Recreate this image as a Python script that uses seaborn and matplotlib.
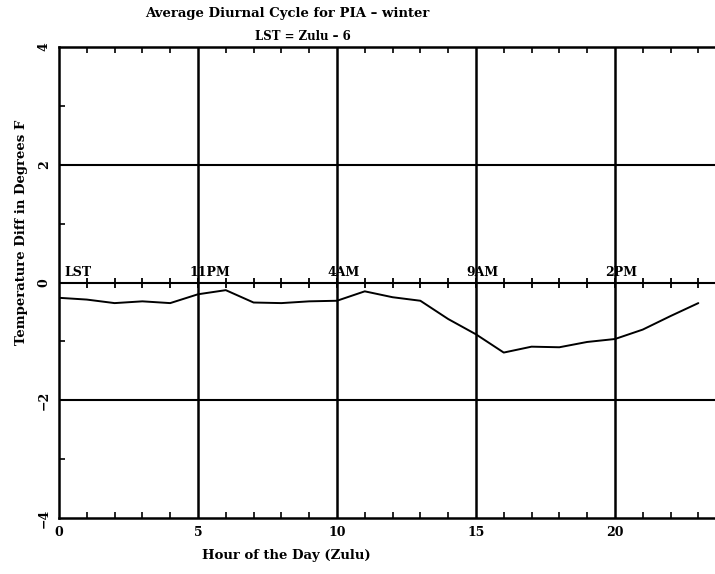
import numpy as np
import pandas as pd
import seaborn as sns
import matplotlib.pyplot as plt

# Hourly averages (Zulu hour -> temp diff, deg F)
hours = list(range(24))
temp_diff = [-0.26, -0.29, -0.35, -0.32, -0.35, -0.20, -0.13, -0.34,
             -0.35, -0.32, -0.31, -0.15, -0.25, -0.31, -0.62, -0.88,
             -1.19, -1.09, -1.10, -1.01, -0.96, -0.80, -0.57, -0.35]
lst_pos = [0.2, 4.7, 9.65, 14.65, 19.65]
lst_labels = ['LST', '11PM', '4AM', '9AM', '2PM']
major_x = [0, 5, 10, 15, 20]
major_y = [-4, -2, 0, 2, 4]

df = pd.DataFrame({'hour': hours, 'diff': temp_diff})

sns.set_style('ticks')
plt.rcParams['font.family'] = ['DejaVu Serif']
plt.rcParams['font.weight'] = 'bold'
plt.rcParams['text.color'] = 'black'
plt.rcParams['xtick.color'] = 'black'
plt.rcParams['ytick.color'] = 'black'
plt.rcParams['axes.edgecolor'] = 'black'

fig = plt.figure(figsize=(7.15, 5.74), dpi=100)
ax = fig.add_axes([59 / 715, 1 - 518 / 574, 1 - 59 / 715, (518 - 47) / 574])

sns.lineplot(data=df, x='hour', y='diff', color='black', linewidth=1.4, ax=ax)

# grid lines
for x in major_x[1:]:
    ax.axvline(x, color='black', linewidth=1.8)
for y in major_y[1:-1]:
    ax.axhline(y, color='black', linewidth=1.5)

# hour ticks across the zero line
ax.plot(hours, [0] * len(hours), linestyle='none', marker='|',
        markersize=7, markeredgewidth=1.3, color='black')

for p, lab in zip(lst_pos, lst_labels):
    ax.text(p, 0.06, lab, fontsize=9, fontweight='bold', ha='left', va='bottom')

ax.set_xlim(0, 23.6)
ax.set_ylim(-4, 4)
ax.set_xticks(major_x)
ax.set_yticks(major_y)
ax.set_xticks(hours, minor=True)
ax.set_yticks([-3, -1, 1, 3], minor=True)
ax.tick_params(axis='both', which='major', direction='in', length=0,
               labelsize=9, width=1.5, labelcolor='black')
ax.tick_params(axis='x', which='minor', direction='in', length=4, width=1.2,
               top=True, bottom=True)
ax.tick_params(axis='y', which='minor', direction='in', length=4, width=1.2)
ax.tick_params(axis='x', pad=6)
ax.tick_params(axis='y', pad=6)
for lbl in ax.get_yticklabels():
    lbl.set_rotation(90)
    lbl.set_va('center')
for lbl in ax.get_xticklabels() + ax.get_yticklabels():
    lbl.set_fontweight('bold')
ax.set_xlabel('')
ax.set_ylabel('')

for s in ['left', 'bottom', 'top']:
    ax.spines[s].set_linewidth(1.8)
    ax.spines[s].set_color('black')
ax.spines['right'].set_visible(False)

fig.text(287 / 715, 1 - 13 / 574, 'Average Diurnal Cycle for PIA \u2013 winter',
         ha='center', va='center', fontsize=9.5, fontweight='bold')
fig.text(303 / 715, 1 - 37 / 574, 'LST = Zulu \u2013 6',
         ha='center', va='center', fontsize=8.5, fontweight='bold')
fig.text(286 / 715, 1 - 556 / 574, 'Hour of the Day (Zulu)',
         ha='center', va='center', fontsize=9.5, fontweight='bold')
fig.text(22 / 715, 1 - 232 / 574, 'Temperature Diff in Degrees F',
         ha='center', va='center', rotation=90, fontsize=9.5, fontweight='bold')

plt.savefig('out.png', dpi=100)
